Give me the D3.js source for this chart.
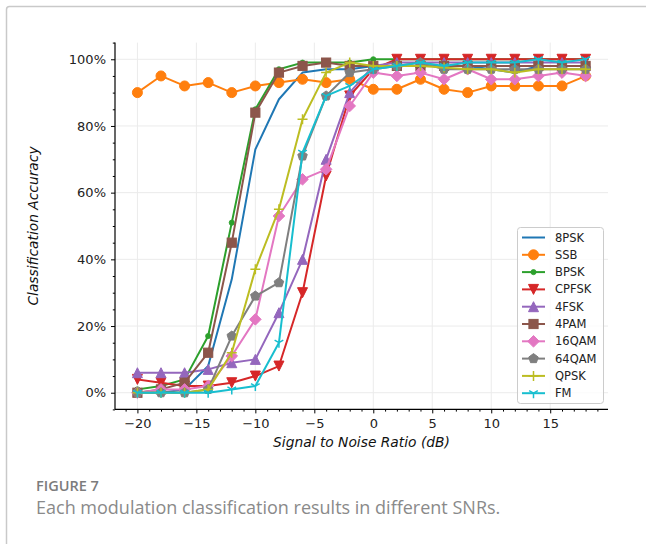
<!DOCTYPE html>
<html>
<head>
<meta charset="utf-8">
<script src="https://cdn.jsdelivr.net/npm/d3@7"></script>
<style>
  html, body { margin: 0; padding: 0; background: #fff; }
  svg { display: block; }
</style>
</head>
<body>
<div id="chart"></div>
<script>
// SNR values (dB) on the x axis
const snr = [-20, -18, -16, -14, -12, -10, -8, -6, -4, -2, 0, 2, 4, 6, 8, 10, 12, 14, 16, 18];

// Per-modulation classification accuracy at each SNR
const acc8PSK  = [0.00, 0.00, 0.01, 0.08, 0.34, 0.73, 0.88, 0.96, 0.97, 0.97, 0.98, 0.98, 0.98, 0.98, 0.98, 0.97, 0.96, 0.98, 0.98, 0.98];
const accSSB   = [0.90, 0.95, 0.92, 0.93, 0.90, 0.92, 0.93, 0.94, 0.93, 0.94, 0.91, 0.91, 0.94, 0.91, 0.90, 0.92, 0.92, 0.92, 0.92, 0.95];
const accBPSK  = [0.01, 0.02, 0.04, 0.17, 0.51, 0.85, 0.97, 0.99, 0.99, 0.99, 1.00, 1.00, 1.00, 1.00, 1.00, 1.00, 1.00, 1.00, 1.00, 1.00];
const accCPFSK = [0.04, 0.03, 0.02, 0.02, 0.03, 0.05, 0.08, 0.30, 0.65, 0.89, 0.97, 1.00, 1.00, 1.00, 1.00, 1.00, 1.00, 1.00, 1.00, 1.00];
const acc4FSK  = [0.06, 0.06, 0.06, 0.07, 0.09, 0.10, 0.24, 0.40, 0.70, 0.90, 0.98, 0.99, 0.99, 0.99, 0.99, 0.99, 0.99, 0.99, 0.99, 0.99];
const acc4PAM  = [0.00, 0.01, 0.03, 0.12, 0.45, 0.84, 0.96, 0.98, 0.99, 0.98, 0.98, 0.98, 0.98, 0.98, 0.98, 0.98, 0.98, 0.98, 0.98, 0.98];
const acc16QAM = [0.00, 0.01, 0.01, 0.02, 0.11, 0.22, 0.53, 0.64, 0.67, 0.86, 0.96, 0.95, 0.96, 0.94, 0.97, 0.94, 0.94, 0.95, 0.96, 0.95];
const acc64QAM = [0.00, 0.00, 0.00, 0.01, 0.17, 0.29, 0.33, 0.71, 0.89, 0.96, 0.97, 0.98, 0.99, 0.97, 0.97, 0.97, 0.97, 0.97, 0.97, 0.97];
const accQPSK  = [0.00, 0.00, 0.00, 0.01, 0.12, 0.37, 0.55, 0.82, 0.96, 0.99, 0.98, 0.98, 0.98, 0.975, 0.97, 0.97, 0.96, 0.97, 0.97, 0.97];
const accFM    = [0.00, 0.00, 0.00, 0.00, 0.01, 0.02, 0.15, 0.72, 0.89, 0.92, 0.97, 0.98, 0.99, 0.98, 0.99, 0.99, 0.99, 1.00, 0.99, 1.00];

// Axis tick values
const xTicks = [-20, -15, -10, -5, 0, 5, 10, 15];
const yTicks = [0, 0.2, 0.4, 0.6, 0.8, 1.0];

const series = [
  { name: "8PSK",  values: acc8PSK,  color: "#1f77b4", marker: "none" },
  { name: "SSB",   values: accSSB,   color: "#ff7f0e", marker: "circle" },
  { name: "BPSK",  values: accBPSK,  color: "#2ca02c", marker: "point" },
  { name: "CPFSK", values: accCPFSK, color: "#d62728", marker: "tridown" },
  { name: "4FSK",  values: acc4FSK,  color: "#9467bd", marker: "triup" },
  { name: "4PAM",  values: acc4PAM,  color: "#8c564b", marker: "square" },
  { name: "16QAM", values: acc16QAM, color: "#e377c2", marker: "diamond" },
  { name: "64QAM", values: acc64QAM, color: "#7f7f7f", marker: "pentagon" },
  { name: "QPSK",  values: accQPSK,  color: "#bcbd22", marker: "plus" },
  { name: "FM",    values: accFM,    color: "#17becf", marker: "tri1" }
];

const W = 646, H = 544;
const margin = { left: 115, right: 38, top: 42.6, bottom: 134.6 };

const svg = d3.select("#chart").append("svg")
  .attr("width", W).attr("height", H)
  .style("font-family", "'DejaVu Sans', sans-serif");

// Figure frame
svg.append("rect")
  .attr("x", 6.5).attr("y", 6.5)
  .attr("width", 700).attr("height", 700)
  .attr("fill", "none").attr("stroke", "#c9c9c9").attr("stroke-width", 1.5)
  .attr("rx", 3);

// Scales with matplotlib-like 5% padding
const xPad = (18 - (-20)) * 0.05;
const x = d3.scaleLinear().domain([-20 - xPad, 18 + xPad]).range([margin.left, W - margin.right]);
const y = d3.scaleLinear().domain([-0.05, 1.05]).range([H - margin.bottom, margin.top]);

const plot = svg.append("g");

// Grid
plot.append("g").selectAll("line").data(xTicks).join("line")
  .attr("x1", d => x(d)).attr("x2", d => x(d))
  .attr("y1", y.range()[0]).attr("y2", y.range()[1])
  .attr("stroke", "#ebebeb").attr("stroke-width", 1);
plot.append("g").selectAll("line").data(yTicks).join("line")
  .attr("y1", d => y(d)).attr("y2", d => y(d))
  .attr("x1", x.range()[0]).attr("x2", x.range()[1])
  .attr("stroke", "#ebebeb").attr("stroke-width", 1);

// Axes
const fmtX = d => (d < 0 ? "\u2212" + Math.abs(d) : String(d));
const xAxis = d3.axisBottom(x).tickValues(xTicks).tickFormat(fmtX).tickSize(4).tickPadding(5);
const xMinor = d3.axisBottom(x).tickValues(d3.range(-21, 20, 1).filter(v => v % 5 !== 0)).tickFormat("").tickSize(2.2);
const yAxis = d3.axisLeft(y).tickValues(yTicks).tickFormat(d => Math.round(d * 100) + "%").tickSize(4).tickPadding(5);
const yMinor = d3.axisLeft(y).tickValues(d3.range(-0.05, 1.051, 0.05).filter(v => Math.round(v * 100) % 20 !== 0)).tickFormat("").tickSize(2.2);

function styleAxis(g) {
  g.select(".domain").remove();
  g.selectAll("line").attr("stroke", "#000").attr("stroke-width", 1);
  g.selectAll("text").attr("fill", "#222").style("font-size", "13px")
    .style("font-family", "'DejaVu Sans', sans-serif");
}

const gx = svg.append("g").attr("transform", `translate(0,${y.range()[0]})`);
gx.call(xAxis).call(styleAxis);
svg.append("g").attr("transform", `translate(0,${y.range()[0]})`).call(xMinor).call(styleAxis);
const gy = svg.append("g").attr("transform", `translate(${x.range()[0]},0)`);
gy.call(yAxis).call(styleAxis);
svg.append("g").attr("transform", `translate(${x.range()[0]},0)`).call(yMinor).call(styleAxis);

// Spines (left and bottom only)
svg.append("line").attr("x1", x.range()[0]).attr("x2", x.range()[0])
  .attr("y1", y.range()[0]).attr("y2", y.range()[1]).attr("stroke", "#000").attr("stroke-width", 1.2);
svg.append("line").attr("x1", x.range()[0]).attr("x2", x.range()[1])
  .attr("y1", y.range()[0]).attr("y2", y.range()[0]).attr("stroke", "#000").attr("stroke-width", 1.2);

// Axis labels
svg.append("text")
  .attr("x", (x.range()[0] + x.range()[1]) / 2).attr("y", 447)
  .attr("text-anchor", "middle").style("font-size", "13.8px").style("font-style", "italic")
  .attr("fill", "#111").text("Signal to Noise Ratio (dB)");
svg.append("text")
  .attr("transform", `translate(38,${(y.range()[0] + y.range()[1]) / 2}) rotate(-90)`)
  .attr("text-anchor", "middle").style("font-size", "13.8px").style("font-style", "italic")
  .attr("fill", "#111").text("Classification Accuracy");

// Marker drawing
function drawMarker(g, type, color, cx, cy) {
  const s = 5;
  switch (type) {
    case "circle":
      g.append("circle").attr("cx", cx).attr("cy", cy).attr("r", 5)
        .attr("fill", color).attr("stroke", color).attr("stroke-width", 1);
      break;
    case "point":
      g.append("circle").attr("cx", cx).attr("cy", cy).attr("r", 2.6)
        .attr("fill", color).attr("stroke", color).attr("stroke-width", 0.8);
      break;
    case "square":
      g.append("rect").attr("x", cx - 4.6).attr("y", cy - 4.6).attr("width", 9.2).attr("height", 9.2)
        .attr("fill", color).attr("stroke", color).attr("stroke-width", 1);
      break;
    case "triup":
      g.append("path").attr("d", `M${cx},${cy - s}L${cx + s},${cy + s}L${cx - s},${cy + s}Z`)
        .attr("fill", color).attr("stroke", color).attr("stroke-width", 1).attr("stroke-linejoin", "miter");
      break;
    case "tridown":
      g.append("path").attr("d", `M${cx},${cy + s}L${cx + s},${cy - s}L${cx - s},${cy - s}Z`)
        .attr("fill", color).attr("stroke", color).attr("stroke-width", 1);
      break;
    case "diamond": {
      const r = 5.8;
      g.append("path").attr("d", `M${cx},${cy - r}L${cx + r},${cy}L${cx},${cy + r}L${cx - r},${cy}Z`)
        .attr("fill", color).attr("stroke", color).attr("stroke-width", 1);
      break;
    }
    case "pentagon": {
      const r = 5;
      const pts = d3.range(5).map(i => {
        const a = -Math.PI / 2 + i * 2 * Math.PI / 5;
        return [cx + r * Math.cos(a), cy + r * Math.sin(a)];
      });
      g.append("path").attr("d", "M" + pts.map(p => p.join(",")).join("L") + "Z")
        .attr("fill", color).attr("stroke", color).attr("stroke-width", 1);
      break;
    }
    case "plus":
      g.append("path").attr("d", `M${cx - s},${cy}H${cx + s}M${cx},${cy - s}V${cy + s}`)
        .attr("fill", "none").attr("stroke", color).attr("stroke-width", 1.5);
      break;
    case "tri1": {
      const r = 5;
      const a = Math.cos(Math.PI / 6) * r, b = r / 2;
      g.append("path").attr("d", `M${cx},${cy}V${cy + r}M${cx},${cy}L${cx - a},${cy - b}M${cx},${cy}L${cx + a},${cy - b}`)
        .attr("fill", "none").attr("stroke", color).attr("stroke-width", 1.5);
      break;
    }
    default:
      break;
  }
}

// Lines with markers, drawn in series order
const line = d3.line().x((d, i) => x(snr[i])).y(d => y(d));
series.forEach(s => {
  const g = plot.append("g");
  g.append("path").datum(s.values).attr("d", line)
    .attr("fill", "none").attr("stroke", s.color).attr("stroke-width", 2)
    .attr("stroke-linejoin", "round").attr("stroke-linecap", "square");
  s.values.forEach((v, i) => drawMarker(g, s.marker, s.color, x(snr[i]), y(v)));
});

// Legend
const lg = svg.append("g");
const lx = 517, ly = 227, lw = 86, lh = 176, rowH = 17.3;
lg.append("rect").attr("x", lx + 0.5).attr("y", ly + 0.5).attr("width", lw).attr("height", lh)
  .attr("rx", 3).attr("fill", "#fff").attr("fill-opacity", 0.8)
  .attr("stroke", "#cccccc").attr("stroke-width", 1);
series.forEach((s, i) => {
  const cy = ly + 10.5 + i * rowH;
  lg.append("line").attr("x1", lx + 5).attr("x2", lx + 28).attr("y1", cy).attr("y2", cy)
    .attr("stroke", s.color).attr("stroke-width", 2);
  drawMarker(lg, s.marker, s.color, lx + 16.5, cy);
  lg.append("text").attr("x", lx + 38).attr("y", cy + 4)
    .style("font-size", "11.5px").attr("fill", "#222").text(s.name);
});

// Caption
svg.append("text").attr("x", 36).attr("y", 491)
  .style("font-family", "'Open Sans', 'Noto Sans', sans-serif").style("font-size", "14.5px")
  .style("font-weight", "600").attr("fill", "#7c7c7c").text("FIGURE 7");
svg.append("text").attr("x", 36).attr("y", 514)
  .style("font-family", "'Open Sans', 'Noto Sans', sans-serif").style("font-size", "18px")
  .attr("fill", "#8a8a8a").text("Each modulation classification results in different SNRs.");
</script>
</body>
</html>
